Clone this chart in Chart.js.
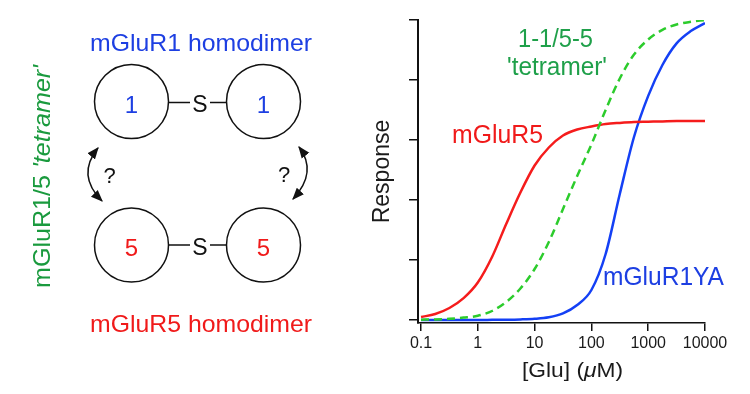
<!DOCTYPE html>
<html>
<head>
<meta charset="utf-8">
<script src="https://cdn.jsdelivr.net/npm/chart.js@4.4.1/dist/chart.umd.min.js"></script>
<style>
    html, body { margin: 0; padding: 0; background: #fff; }
    #page { position: relative; width: 750px; height: 394px; overflow: hidden; }
    #chartBox { position: absolute; left: 360px; top: 0; width: 390px; height: 394px; }
    #overlay { position: absolute; left: 0; top: 0; pointer-events: none; }
    #overlay text { font-family: "Liberation Sans", Arial, Helvetica, sans-serif; }
</style>
</head>
<body>
<div id="page">
    <div id="chartBox"><canvas id="doseChart"></canvas></div>
    <svg id="overlay" width="750" height="394" viewBox="0 0 750 394">
        <defs>
            <marker id="head" viewBox="0 0 10 10" refX="9" refY="5" markerWidth="12" markerHeight="12"
                    markerUnits="userSpaceOnUse" orient="auto-start-reverse">
                <path d="M0,1 L10,5 L0,9 z" fill="#111"/>
            </marker>
        </defs>

        <!-- left: dimer diagram -->
        <text x="90" y="51" font-size="24" fill="#1d3fe2" textLength="222" lengthAdjust="spacingAndGlyphs">mGluR1 homodimer</text>
        <text x="90" y="332" font-size="24" fill="#f01a1a" textLength="222" lengthAdjust="spacingAndGlyphs">mGluR5 homodimer</text>
        <text transform="translate(50,288) rotate(-90)" font-size="24" fill="#1a9a3e" textLength="223" lengthAdjust="spacingAndGlyphs">mGluR1/5 <tspan font-style="italic">'tetramer'</tspan></text>

        <g fill="none" stroke="#111" stroke-width="1.5">
            <circle cx="131.5" cy="101.5" r="37"/>
            <circle cx="263.5" cy="101.5" r="37"/>
            <circle cx="131.5" cy="245" r="37"/>
            <circle cx="263.5" cy="245" r="37"/>
            <line x1="168.5" y1="102.5" x2="190" y2="102.5"/>
            <line x1="210" y1="102.5" x2="226.5" y2="102.5"/>
            <line x1="168.5" y1="245" x2="190" y2="245"/>
            <line x1="210" y1="245" x2="226.5" y2="245"/>
            <path d="M98,148 Q76,175 102,201" marker-start="url(#head)" marker-end="url(#head)"/>
            <path d="M299,147 Q318,172 293,199" marker-start="url(#head)" marker-end="url(#head)"/>
        </g>
        <g font-size="24" text-anchor="middle">
            <text x="131.5" y="112.5" fill="#1d3fe2">1</text>
            <text x="263.5" y="112.5" fill="#1d3fe2">1</text>
            <text x="131.5" y="256" fill="#f01a1a">5</text>
            <text x="263.5" y="256" fill="#f01a1a">5</text>
            <text x="200" y="112" font-size="23" fill="#111">S</text>
            <text x="200" y="255" font-size="23" fill="#111">S</text>
        </g>
        <g font-size="22" text-anchor="middle" fill="#111">
            <text x="109.5" y="183">?</text>
            <text x="284" y="182">?</text>
        </g>

        <!-- right: curve labels and x title -->
        <text x="518" y="47" font-size="25" fill="#1fa04a" textLength="75" lengthAdjust="spacingAndGlyphs">1-1/5-5</text>
        <text x="507" y="75" font-size="25" fill="#1fa04a" textLength="100" lengthAdjust="spacingAndGlyphs">'tetramer'</text>
        <text x="452" y="143" font-size="25" fill="#f01a1a" textLength="91" lengthAdjust="spacingAndGlyphs">mGluR5</text>
        <text x="603" y="285" font-size="25" fill="#1d3fe2" textLength="121" lengthAdjust="spacingAndGlyphs">mGluR1YA</text>
        <text x="522" y="377" font-size="21" fill="#1a1a1a" textLength="101" lengthAdjust="spacingAndGlyphs">[Glu] (<tspan font-style="italic">μ</tspan>M)</text>
    </svg>
</div>
<script>
// [Glu] in uM, quarter-decade steps
const concentrations = [0.1, 0.178, 0.316, 0.562, 1, 1.78, 3.16, 5.62, 10, 17.8, 31.6, 56.2,
    100, 178, 316, 562, 1000, 1780, 3160, 5620, 10000];
const mGluR5 = [1, 2, 4, 7.3, 12.5, 21, 32, 42.5, 51.5, 57.5, 61.5, 63.5,
    64.5, 65.3, 65.7, 66, 66.1, 66.2, 66.3, 66.3, 66.3];
const tetramer = [0.1, 0.2, 0.4, 0.8, 1.4, 3, 6, 10.5, 17, 26, 37, 48,
    58.5, 70, 80.5, 88.5, 93.5, 96.7, 98.5, 99.4, 100];
const mGluR1YA = [0, 0, 0, 0, 0, 0.05, 0.1, 0.2, 0.4, 0.9, 2.2, 5,
    10, 22, 42, 61, 74.7, 85, 92.2, 96.3, 99];
const xTicks = [0.1, 1, 10, 100, 1000, 10000];
const xTickLabels = ['0.1', '1', '10', '100', '1000', '10000'];
const yTicks = [0, 20, 40, 60, 80, 100];

function toPoints(values) {
    return concentrations.map((c, i) => ({ x: c, y: values[i] }));
}

function lineSet(label, values, color, dash) {
    return {
        label: label,
        data: toPoints(values),
        borderColor: color,
        borderWidth: 2.5,
        borderDash: dash || [],
        pointRadius: 0,
        fill: false,
        cubicInterpolationMode: 'monotone'
    };
}

const axisFont = 'Liberation Sans, Arial, Helvetica, sans-serif';

new Chart(document.getElementById('doseChart'), {
    type: 'line',
    data: {
        datasets: [
            lineSet("1-1/5-5 'tetramer'", tetramer, '#2ccc2c', [8, 5]),
            lineSet('mGluR5', mGluR5, '#f51c1c'),
            lineSet('mGluR1YA', mGluR1YA, '#1440f5')
        ]
    },
    options: {
        responsive: true,
        maintainAspectRatio: false,
        animation: false,
        layout: { padding: { top: 20, right: 45, left: 0, bottom: 0 } },
        plugins: { legend: { display: false }, tooltip: { enabled: false } },
        scales: {
            x: {
                type: 'logarithmic',
                min: 0.0885,
                max: 10000,
                afterBuildTicks: (scale) => { scale.ticks = xTicks.map(v => ({ value: v })); },
                afterFit: (scale) => { scale.height = 71; },
                ticks: {
                    autoSkip: false,
                    maxRotation: 0,
                    padding: 3,
                    color: '#1a1a1a',
                    font: { family: axisFont, size: 16 },
                    callback: (value) => xTickLabels[xTicks.indexOf(value)] || ''
                },
                grid: { drawOnChartArea: false, tickLength: 8, color: '#111', lineWidth: 1.5 },
                border: { color: '#111', width: 1.5 }
            },
            y: {
                min: -1,
                max: 100,
                afterBuildTicks: (scale) => { scale.ticks = yTicks.map(v => ({ value: v })); },
                afterFit: (scale) => { scale.width = 58; },
                ticks: { display: false },
                grid: { drawOnChartArea: false, tickLength: 9, color: '#111', lineWidth: 1.5 },
                border: { color: '#111', width: 2 },
                title: {
                    display: true,
                    text: 'Response',
                    color: '#1a1a1a',
                    font: { family: axisFont, size: 23 },
                    padding: { top: 9, bottom: 0 }
                }
            }
        }
    }
});
</script>
</body>
</html>
